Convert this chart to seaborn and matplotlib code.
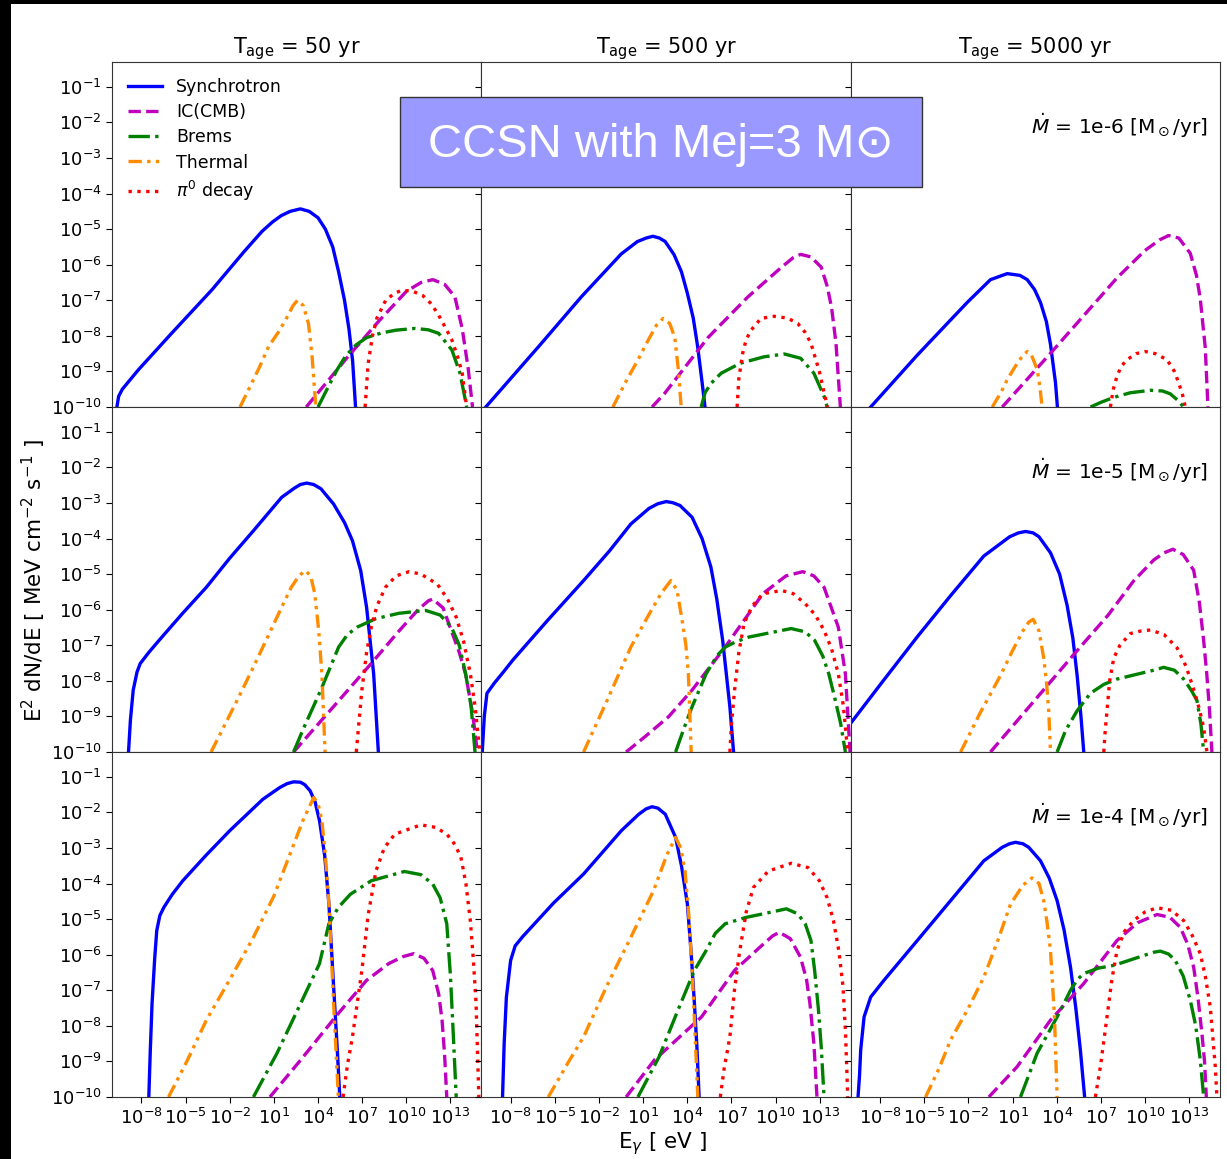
import numpy as np
import pandas as pd
import matplotlib
matplotlib.use("Agg")
import matplotlib.pyplot as plt
import matplotlib.ticker as mticker
from matplotlib.patches import Rectangle
import seaborn as sns

# ---------------------------------------------------------------------------
# Model grid
# ---------------------------------------------------------------------------
ages = ["50", "500", "5000"]           # T_age [yr], columns
mdots = ["1e-6", "1e-5", "1e-4"]       # mass-loss rate [Msun/yr], rows
components = ["Synchrotron", "IC(CMB)", "Brems", "Thermal", r"$\pi^0$ decay"]
x_ticks = [1e-8, 1e-5, 1e-2, 1e1, 1e4, 1e7, 1e10, 1e13]
y_ticks = [1e-10, 1e-9, 1e-8, 1e-7, 1e-6, 1e-5, 1e-4, 1e-3, 1e-2, 1e-1]

# ---------------------------------------------------------------------------
# Spectra: log10(E / eV) and log10(E^2 dN/dE / MeV cm^-2 s^-1)
# ---------------------------------------------------------------------------
# Mdot = 1e-6, T = 50 yr
syn_m6_t50_E = [-9.67, -9.55, -9.3, -8.9, -8.2, -6.0, -3.2, -1.0, 0.2, 0.9, 1.5, 2.1, 2.8, 3.4, 4.0, 4.5, 5.0, 5.4, 5.8, 6.1, 6.35, 6.55]
syn_m6_t50_F = [-10, -9.7, -9.5, -9.3, -8.95, -7.95, -6.7, -5.62, -5.06, -4.8, -4.62, -4.5, -4.43, -4.5, -4.68, -5.0, -5.5, -6.2, -7.0, -7.8, -8.7, -10]
ic_m6_t50_E = [3.2, 6.0, 8.1, 10.0, 11.0, 11.8, 12.6, 13.3, 13.8, 14.2, 14.5]
ic_m6_t50_F = [-10, -8.6, -7.6, -6.75, -6.5, -6.42, -6.55, -6.9, -7.8, -8.9, -10]
br_m6_t50_E = [4.0, 4.7, 5.3, 5.9, 6.6, 7.3, 8.3, 9.3, 10.6, 11.5, 12.2, 13.1, 13.65, 14.0, 14.1]
br_m6_t50_F = [-10, -9.43, -8.95, -8.55, -8.25, -8.05, -7.92, -7.84, -7.79, -7.83, -7.93, -8.4, -9.05, -9.78, -10]
th_m6_t50_E = [-1.3, 0.0, 0.64, 1.3, 1.8, 2.3, 2.6, 3.0, 3.35, 3.6, 3.85]
th_m6_t50_F = [-10, -8.9, -8.3, -7.9, -7.55, -7.15, -7.0, -7.15, -7.65, -8.6, -10]
pi_m6_t50_E = [7.2, 7.4, 7.7, 8.0, 8.6, 9.2, 9.7, 10.4, 11.1, 11.7, 12.2, 12.7, 13.1, 13.5, 13.8, 14.1]
pi_m6_t50_F = [-10, -8.8, -8.0, -7.5, -7.0, -6.8, -6.72, -6.74, -6.86, -7.1, -7.42, -7.8, -8.12, -8.6, -9.05, -10]

# Mdot = 1e-6, T = 500 yr
syn_m6_t500_E = [-9.7, -6.0, -3.2, -0.5, 0.6, 1.2, 1.65, 2.1, 2.5, 3.1, 3.6, 4.0, 4.4, 4.7, 5.0, 5.2]
syn_m6_t500_F = [-10, -8.25, -6.9, -5.7, -5.35, -5.25, -5.2, -5.25, -5.35, -5.72, -6.2, -6.8, -7.5, -8.3, -9.3, -10]
ic_m6_t500_E = [1.6, 2.45, 5.4, 8.1, 10.4, 11.2, 11.7, 12.4, 13.1, 13.5, 13.8, 14.1, 14.4]
ic_m6_t500_F = [-10, -9.62, -8.05, -6.91, -6.07, -5.8, -5.71, -5.78, -6.07, -6.6, -7.2, -8.2, -10]
br_m6_t500_E = [4.94, 5.2, 5.6, 6.3, 7.6, 9.2, 10.6, 11.7, 12.6, 13.3, 13.5]
br_m6_t500_F = [-10, -9.6, -9.34, -9.05, -8.77, -8.59, -8.51, -8.63, -9.05, -9.71, -10]
th_m6_t500_E = [-1.06, -0.2, 0.64, 1.3, 1.9, 2.35, 2.8, 3.15, 3.4, 3.58]
th_m6_t500_F = [-10, -9.3, -8.68, -8.15, -7.7, -7.51, -7.65, -8.05, -9.0, -10]
pi_m6_t500_E = [7.38, 7.5, 7.76, 8.0, 8.33, 9.0, 9.9, 10.8, 11.5, 12.0, 12.4, 12.97, 13.3, 13.53]
pi_m6_t500_F = [-10, -9.2, -8.49, -8.1, -7.84, -7.51, -7.45, -7.5, -7.65, -7.9, -8.21, -9.0, -9.6, -10]

# Mdot = 1e-6, T = 5000 yr
syn_m6_t5000_E = [-8.64, -5.47, -2.08, -0.5, 0.64, 1.5, 2.0, 2.5, 2.9, 3.3, 3.58, 3.92, 4.05]
syn_m6_t5000_F = [-10, -8.54, -7.06, -6.42, -6.25, -6.3, -6.42, -6.7, -7.06, -7.6, -8.24, -9.32, -10]
ic_m6_t5000_E = [0.3, 3.58, 8.1, 10.0, 11.0, 11.6, 12.3, 13.08, 13.5, 13.76, 14.1, 14.28]
ic_m6_t5000_F = [-10, -8.49, -6.37, -5.6, -5.3, -5.18, -5.25, -5.68, -6.3, -6.96, -8.34, -10]
br_m6_t5000_E = [6.3, 7.0, 7.88, 9.0, 10.37, 11.2, 11.72, 12.2, 12.63]
br_m6_t5000_F = [-10, -9.87, -9.73, -9.6, -9.53, -9.55, -9.63, -9.8, -10]
th_m6_t5000_E = [-0.38, 0.2, 0.64, 1.2, 1.7, 2.0, 2.3, 2.67, 2.85, 3.01]
th_m6_t5000_F = [-10, -9.6, -9.23, -8.85, -8.55, -8.44, -8.55, -8.94, -9.4, -10]
pi_m6_t5000_E = [7.65, 7.85, 8.1, 8.4, 8.78, 9.4, 10.03, 10.7, 11.5, 12.0, 12.29, 12.55, 12.74]
pi_m6_t5000_F = [-10, -9.5, -9.13, -8.85, -8.67, -8.5, -8.44, -8.5, -8.67, -9.0, -9.32, -9.65, -10]

# Mdot = 1e-5, T = 50 yr
syn_m5_t50_E = [-8.88, -8.75, -8.56, -8.3, -8.08, -7.5, -6.8, -5.2, -3.59, -2.0, -0.39, 1.53, 2.4, 2.8, 3.23, 3.7, 4.2, 5.06, 5.8, 6.34, 6.9, 7.3, 7.78, 8.1]
syn_m5_t50_F = [-10, -9.1, -8.26, -7.75, -7.51, -7.2, -6.86, -6.1, -5.37, -4.55, -3.78, -2.84, -2.58, -2.48, -2.44, -2.48, -2.6, -3.03, -3.55, -4.06, -4.9, -5.93, -7.8, -10]
ic_m5_t50_E = [2.34, 5.0, 7.62, 9.5, 10.8, 11.5, 11.8, 12.5, 13.07, 13.6, 14.03, 14.51, 14.83]
ic_m5_t50_F = [-10, -8.75, -7.51, -6.6, -6.0, -5.75, -5.7, -5.95, -6.6, -7.2, -7.81, -8.93, -10]
br_m5_t50_E = [2.34, 3.0, 3.6, 4.2, 4.8, 5.4, 6.0, 6.66, 7.94, 9.5, 11.31, 12.3, 13.07, 13.6, 14.03, 14.4, 14.67]
br_m5_t50_F = [-10, -9.35, -8.8, -8.25, -7.65, -7.05, -6.7, -6.49, -6.25, -6.1, -6.02, -6.15, -6.49, -7.0, -7.8, -8.7, -10]
th_m5_t50_E = [-3.27, -1.5, -0.39, 0.57, 1.53, 2.18, 2.7, 3.14, 3.5, 3.78, 4.05, 4.26, 4.48]
th_m5_t50_F = [-10, -8.55, -7.61, -6.77, -5.93, -5.37, -5.05, -4.9, -5.05, -5.55, -6.6, -7.8, -10]
pi_m5_t50_E = [6.6, 6.98, 7.3, 7.62, 8.0, 8.58, 9.3, 10.19, 11.0, 12.11, 12.8, 13.39, 13.9, 14.35, 14.7, 14.99]
pi_m5_t50_F = [-10, -8.26, -7.2, -6.49, -5.9, -5.37, -5.05, -4.93, -5.0, -5.28, -5.7, -6.21, -6.9, -7.8, -8.8, -10]

# Mdot = 1e-5, T = 500 yr
syn_m5_t500_E = [-9.94, -9.8, -9.62, -9.13, -8.5, -7.85, -5.5, -3.05, -1.3, 0.16, 1.4, 2.0, 2.56, 3.0, 3.5, 4.32, 5.0, 5.6, 6.0, 6.4, 6.89, 7.14]
syn_m5_t500_F = [-10, -9.0, -8.35, -8.07, -7.75, -7.41, -6.3, -5.18, -4.35, -3.59, -3.15, -3.02, -2.96, -2.99, -3.07, -3.4, -4.0, -4.8, -5.7, -6.86, -8.73, -10]
ic_m5_t500_E = [-0.16, 1.12, 2.72, 4.32, 6.57, 9.13, 10.7, 11.85, 12.6, 13.29, 14.26, 14.74, 15.06]
ic_m5_t500_F = [-10, -9.57, -9.01, -8.26, -7.05, -5.55, -5.05, -4.93, -5.05, -5.37, -6.49, -7.8, -10]
br_m5_t500_E = [3.2, 3.8, 4.32, 5.28, 6.0, 6.57, 7.3, 8.17, 9.6, 11.05, 12.0, 12.65, 13.2, 13.61, 14.0, 14.42, 14.74]
br_m5_t500_F = [-10, -9.3, -8.73, -7.8, -7.3, -7.05, -6.9, -6.77, -6.65, -6.53, -6.62, -6.86, -7.3, -7.8, -8.45, -9.2, -10]
th_m5_t500_E = [-3.05, -1.4, 0.16, 1.3, 2.2, 2.88, 3.3, 3.68, 3.9, 4.07, 4.26]
th_m5_t500_F = [-10, -8.5, -7.05, -6.2, -5.55, -5.18, -5.45, -6.39, -7.0, -7.8, -10]
pi_m5_t500_E = [6.89, 7.0, 7.21, 7.5, 7.85, 8.4, 9.13, 10.41, 11.2, 12.01, 12.7, 13.29, 13.8, 14.26, 14.6, 14.9]
pi_m5_t500_F = [-10, -9.2, -8.26, -7.2, -6.39, -5.9, -5.55, -5.46, -5.55, -5.83, -6.15, -6.58, -7.1, -7.8, -8.7, -10]

# Mdot = 1e-5, T = 5000 yr
syn_m5_t5000_E = [-10.2, -7.7, -5.47, -3.2, -0.95, 0.8, 1.4, 1.88, 2.4, 2.8, 3.58, 4.2, 4.71, 5.1, 5.39, 5.65, 5.84]
syn_m5_t5000_F = [-9.3, -7.95, -6.76, -5.6, -4.49, -3.95, -3.84, -3.8, -3.84, -3.95, -4.4, -5.0, -5.88, -6.8, -7.85, -9.0, -10]
ic_m5_t5000_E = [-0.5, 2.5, 5.16, 7.5, 9.23, 10.6, 11.3, 11.9, 12.6, 13.31, 13.7, 13.99, 14.2, 14.39, 14.55]
ic_m5_t5000_F = [-10, -8.55, -7.26, -6.15, -5.19, -4.6, -4.4, -4.3, -4.45, -4.89, -5.8, -6.87, -7.8, -8.84, -10]
br_m5_t5000_E = [4.03, 4.6, 5.39, 6.29, 7.2, 8.1, 9.6, 10.6, 11.27, 12.0, 12.63, 13.2, 13.53, 13.8, 13.99]
br_m5_t5000_F = [-10, -9.4, -8.84, -8.35, -8.1, -7.95, -7.8, -7.7, -7.62, -7.7, -7.95, -8.3, -8.55, -9.2, -10]
th_m5_t5000_E = [-2.53, -1.2, 0.18, 1.0, 1.7, 2.1, 2.4, 2.8, 3.12, 3.3, 3.46, 3.58]
th_m5_t5000_F = [-10, -8.9, -7.85, -7.15, -6.6, -6.35, -6.27, -6.6, -7.36, -8.0, -8.84, -10]
pi_m5_t5000_E = [7.2, 7.3, 7.42, 7.6, 7.88, 8.3, 9.01, 9.7, 10.37, 11.3, 12.18, 12.8, 13.31, 13.7, 13.99, 14.21]
pi_m5_t5000_F = [-10, -9.4, -8.84, -8.0, -7.36, -7.0, -6.67, -6.6, -6.57, -6.7, -7.07, -7.6, -8.24, -8.8, -9.32, -10]

# Mdot = 1e-4, T = 50 yr
syn_m4_t50_E = [-7.5, -7.4, -7.28, -7.1, -6.96, -6.75, -6.48, -5.9, -5.19, -3.6, -1.99, 0.25, 1.4, 1.9, 2.34, 2.8, 3.1, 3.46, 3.8, 4.1, 4.45, 4.74, 5.06, 5.3, 5.48]
syn_m4_t50_F = [-10, -8.7, -7.37, -6.1, -5.32, -4.9, -4.67, -4.3, -3.92, -3.2, -2.51, -1.63, -1.3, -1.19, -1.14, -1.15, -1.22, -1.39, -1.7, -2.23, -3.2, -4.57, -6.9, -8.6, -10]
ic_m4_t50_E = [0.73, 2.82, 5.38, 7.3, 8.8, 9.8, 10.51, 11.2, 11.79, 12.2, 12.43, 12.6, 12.75]
ic_m4_t50_F = [-10, -8.96, -7.65, -6.72, -6.25, -6.05, -5.97, -6.1, -6.44, -7.1, -7.84, -8.8, -10]
br_m4_t50_E = [-0.39, 1.21, 2.82, 4.1, 4.74, 5.38, 6.2, 7.62, 9.87, 11.0, 11.79, 12.3, 12.75, 13.0, 13.2, 13.39]
br_m4_t50_F = [-10, -8.77, -7.37, -6.25, -5.13, -4.67, -4.3, -3.92, -3.66, -3.75, -4.01, -4.4, -5.13, -6.6, -8.3, -10]
th_m4_t50_E = [-6.16, -4.87, -3.59, -2.0, -0.39, 1.0, 2.18, 3.0, 3.71, 4.0, 4.26, 4.5, 4.74, 5.06, 5.38]
th_m4_t50_F = [-10, -8.96, -7.84, -6.7, -5.51, -4.35, -3.08, -2.2, -1.58, -1.75, -2.23, -3.2, -4.57, -7.37, -10]
pi_m4_t50_E = [5.7, 6.0, 6.34, 6.98, 7.4, 7.94, 8.5, 9.22, 10.99, 12.0, 12.75, 13.3, 13.71, 14.05, 14.35, 14.55, 14.74, 14.93]
pi_m4_t50_F = [-10, -9.1, -8.31, -6.44, -4.9, -3.64, -3.0, -2.61, -2.35, -2.42, -2.61, -2.9, -3.26, -4.0, -5.04, -6.1, -7.37, -10]

# Mdot = 1e-4, T = 500 yr
syn_m4_t500_E = [-8.56, -8.45, -8.3, -8.01, -7.7, -7.21, -5.1, -3.05, -0.48, 0.7, 1.2, 1.6, 2.0, 2.5, 3.2, 3.6, 4.0, 4.25, 4.48, 4.65, 4.8]
syn_m4_t500_F = [-10, -8.5, -7.2, -6.16, -5.75, -5.5, -4.55, -3.73, -2.51, -2.05, -1.9, -1.84, -1.88, -2.05, -2.7, -3.5, -4.57, -5.9, -7.37, -8.6, -10]
ic_m4_t500_E = [-0.16, 1.76, 4.96, 7.21, 8.9, 9.8, 10.25, 11.0, 11.69, 12.1, 12.33, 12.6, 12.81]
ic_m4_t500_F = [-10, -8.96, -7.75, -6.44, -5.8, -5.47, -5.37, -5.55, -6.07, -6.7, -7.37, -8.5, -10]
br_m4_t500_E = [0.64, 2.08, 3.36, 4.48, 5.28, 5.9, 6.57, 8.0, 9.5, 10.73, 11.5, 12.01, 12.4, 12.65, 12.9, 13.1, 13.29]
br_m4_t500_F = [-10, -8.87, -7.56, -6.44, -5.88, -5.4, -5.13, -4.95, -4.82, -4.71, -4.85, -5.13, -5.6, -6.44, -7.5, -8.6, -10]
th_m4_t500_E = [-5.45, -4.2, -3.05, -1.5, 0.16, 1.7, 2.6, 3.2, 3.55, 3.84, 4.1, 4.32, 4.5, 4.71]
th_m4_t500_F = [-10, -9.1, -8.31, -6.9, -5.51, -4.2, -3.2, -2.7, -3.0, -3.64, -4.9, -6.44, -8.0, -10]
pi_m4_t500_E = [6.24, 6.5, 6.89, 7.2, 7.53, 8.0, 8.49, 9.5, 11.05, 12.2, 12.97, 13.5, 13.93, 14.3, 14.58, 14.75, 14.9]
pi_m4_t500_F = [-10, -9.2, -8.31, -7.0, -5.97, -4.8, -4.11, -3.65, -3.43, -3.55, -3.92, -4.4, -5.04, -5.9, -6.9, -8.2, -10]

# Mdot = 1e-4, T = 5000 yr
syn_m4_t5000_E = [-9.5, -9.4, -9.32, -9.09, -8.64, -7.74, -5.47, -3.21, -0.95, 0.3, 0.8, 1.2, 1.7, 2.1, 2.9, 3.5, 4.03, 4.5, 4.94, 5.3, 5.61, 5.9]
syn_m4_t5000_F = [-10, -9.4, -8.68, -7.75, -7.19, -6.72, -5.6, -4.48, -3.36, -2.98, -2.88, -2.84, -2.88, -2.98, -3.36, -3.85, -4.48, -5.3, -6.35, -7.5, -8.68, -10]
ic_m4_t5000_E = [-0.61, 1.31, 3.58, 5.84, 8.1, 9.5, 10.82, 11.7, 12.4, 12.9, 13.31, 13.6, 13.87, 14.05, 14.17]
ic_m4_t5000_F = [-10, -9.15, -7.84, -6.81, -5.6, -5.1, -4.87, -4.95, -5.23, -5.7, -6.35, -7.2, -8.21, -9.0, -10]
br_m4_t5000_E = [1.54, 2.67, 4.03, 4.94, 5.4, 5.84, 6.8, 7.88, 9.5, 10.6, 11.05, 11.6, 12.06, 12.6, 13.08, 13.45, 13.76, 13.99]
br_m4_t5000_F = [-10, -8.77, -7.75, -7.0, -6.7, -6.53, -6.38, -6.3, -6.08, -5.93, -5.9, -5.98, -6.16, -6.6, -7.28, -8.0, -8.96, -10]
th_m4_t5000_E = [-4.91, -4.0, -3.21, -2.0, -0.95, 0.0, 0.86, 1.7, 2.33, 2.8, 3.12, 3.35, 3.58, 3.85, 4.03]
th_m4_t5000_F = [-10, -9.2, -8.4, -7.5, -6.63, -5.6, -4.58, -4.05, -3.84, -4.0, -4.48, -5.1, -5.88, -7.75, -10]
pi_m4_t5000_E = [6.63, 6.97, 7.42, 7.75, 8.1, 8.6, 9.23, 10.0, 10.82, 11.8, 12.63, 13.2, 13.76, 14.1, 14.44, 14.78, 14.89]
pi_m4_t5000_F = [-10, -9.15, -7.75, -6.7, -5.88, -5.35, -5.04, -4.8, -4.68, -4.75, -5.04, -5.45, -5.97, -6.6, -7.47, -9.15, -10]

# ---------------------------------------------------------------------------
# Collect into one long-form table
# ---------------------------------------------------------------------------
prefixes = ["syn", "ic", "br", "th", "pi"]
mdot_keys = ["m6", "m5", "m4"]
rows = []
for mkey, mdot in zip(mdot_keys, mdots):
    for age in ages:
        for pre, comp in zip(prefixes, components):
            loge = globals()[f"{pre}_{mkey}_t{age}_E"]
            logf = globals()[f"{pre}_{mkey}_t{age}_F"]
            for e, f in zip(loge, logf):
                rows.append((mdot, age, comp, 10.0 ** e, 10.0 ** f))
spectra = pd.DataFrame(rows, columns=["mdot", "age", "component", "E", "flux"])

colors = {"Synchrotron": "blue", "IC(CMB)": "m", "Brems": "g",
          "Thermal": "darkorange", r"$\pi^0$ decay": "red"}
styles = {"Synchrotron": "-",
          "IC(CMB)": (0, (3.7, 1.6)),
          "Brems": (0, (6.4, 1.6, 1.0, 1.6)),
          "Thermal": (0, (4.0, 1.6, 1.0, 1.6, 1.0, 1.6)),
          r"$\pi^0$ decay": (0, (1.0, 1.65))}

# ---------------------------------------------------------------------------
# Figure
# ---------------------------------------------------------------------------
plt.rcParams["font.family"] = ["DejaVu Sans"]
plt.rcParams["mathtext.fontset"] = "dejavusans"
plt.rcParams["lines.solid_joinstyle"] = "round"
plt.rcParams["lines.dash_joinstyle"] = "round"

fig, axes = plt.subplots(3, 3, sharex=True, sharey=True,
                         figsize=(12.27, 11.59), dpi=100)
fig.subplots_adjust(left=0.0913, right=0.9943, top=0.9465, bottom=0.0535,
                    wspace=0, hspace=0)

for i, mdot in enumerate(mdots):
    for j, age in enumerate(ages):
        ax = axes[i, j]
        ax.set_xscale("log")
        ax.set_yscale("log")
        panel = spectra[(spectra["mdot"] == mdot) & (spectra["age"] == age)]
        for comp in components:
            sub = panel[panel["component"] == comp]
            sns.lineplot(data=sub, x="E", y="flux", ax=ax, sort=False,
                         estimator=None, color=colors[comp],
                         linestyle=styles[comp], lw=2.4, label=comp,
                         legend=False)
        ax.set_xlim(1e-10, 10 ** 15.1)
        ax.set_ylim(1e-10, 0.5)
        ax.xaxis.set_major_locator(mticker.FixedLocator(x_ticks))
        ax.xaxis.set_minor_locator(mticker.NullLocator())
        ax.yaxis.set_major_locator(mticker.FixedLocator(y_ticks))
        ax.yaxis.set_minor_locator(mticker.NullLocator())
        ax.xaxis.set_major_formatter(mticker.LogFormatterSciNotation())
        ax.yaxis.set_major_formatter(mticker.LogFormatterSciNotation())
        ax.tick_params(labelsize=13, length=4)
        ax.set_xlabel("")
        ax.set_ylabel("")
        if i == 0:
            ax.set_title(r"T$_{\rm age}$ = " + age + " yr", fontsize=15, pad=6)
        if j == 2:
            ax.text(0.967, 0.816, r"$\dot{M}$ = " + mdot + r" [M$_\odot$/yr]",
                    transform=ax.transAxes, ha="right", va="center",
                    fontsize=14.5)
        for spine in ax.spines.values():
            spine.set_color("#333333")

handles = axes[0, 0].get_lines()[:len(components)]
axes[0, 0].legend(handles, components, loc="upper left", frameon=False,
                  fontsize=12.5, handlelength=2.0, labelspacing=0.42)

fig.text(0.028, 0.499, r"E$^2$ dN/dE [ MeV cm$^{-2}$ s$^{-1}$ ]",
         rotation=90, ha="center", va="center", fontsize=15.5)
fig.text(0.540, 0.0135, r"E$_\gamma$ [ eV ]", ha="center", va="center",
         fontsize=15.5)

# Title box
box = Rectangle((400 / 1227, 1 - 187 / 1159), 522 / 1227, 90 / 1159,
                transform=fig.transFigure, facecolor="#9999ff",
                edgecolor="#333333", lw=1.0, zorder=10)
fig.add_artist(box)
fig.text(661 / 1227, 1 - 145 / 1159, "CCSN with Mej=3 M\u2299",
         family=["Liberation Sans", "DejaVu Sans"], color="white",
         fontsize=34, ha="center", va="center", zorder=11)

# Dark frame on the left and top edges
fig.add_artist(Rectangle((0, 0), 11 / 1227, 1, transform=fig.transFigure,
                         facecolor="black", edgecolor="none", zorder=12))
fig.add_artist(Rectangle((0, 1 - 4 / 1159), 1, 4 / 1159,
                         transform=fig.transFigure, facecolor="black",
                         edgecolor="none", zorder=12))

fig.savefig("out.png", dpi=100)
